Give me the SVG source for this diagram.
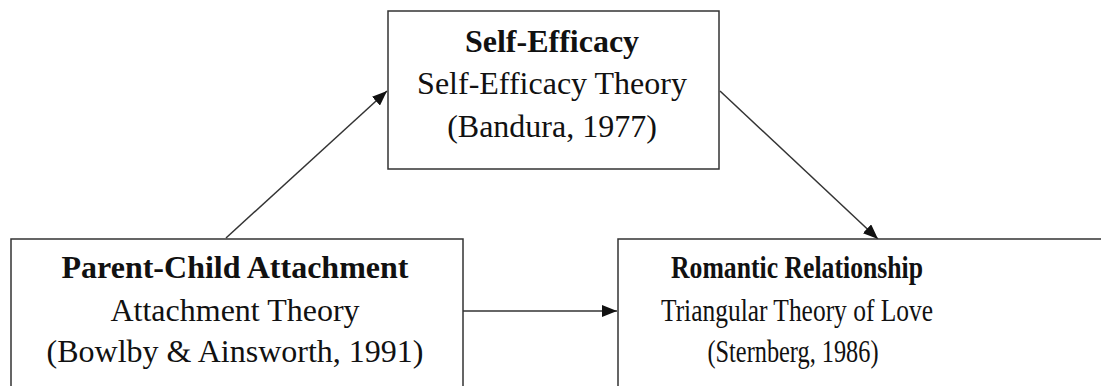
<svg xmlns="http://www.w3.org/2000/svg" width="1101" height="386" viewBox="0 0 1101 386">
  <defs>
    <style>
      .box { fill: #ffffff; stroke: #333333; stroke-width: 1.5; }
      .edge { fill: none; stroke: #333333; stroke-width: 1.5; }
      text { font-family: "Liberation Serif", "Times New Roman", serif; font-size: 32px; fill: #111111; text-anchor: middle; }
      .title { font-weight: bold; }
    </style>
    <marker id="arrow" viewBox="0 0 15 12" refX="15" refY="6" markerWidth="15" markerHeight="12" markerUnits="userSpaceOnUse" orient="auto">
      <path d="M0,0 L15,6 L0,12 Z" fill="#111111"/>
    </marker>
  </defs>
  <rect width="1101" height="386" fill="#ffffff"/>

  <g id="connectors">
    <line class="edge" x1="226" y1="238" x2="387" y2="91" marker-end="url(#arrow)"/>
    <line class="edge" x1="720" y1="91" x2="878" y2="239" marker-end="url(#arrow)"/>
    <line class="edge" x1="463" y1="311" x2="617" y2="311" marker-end="url(#arrow)"/>
  </g>

  <g id="node-self-efficacy">
    <rect class="box" x="388" y="11" width="331" height="158"/>
    <text class="title" x="552" y="52">Self-Efficacy</text>
    <text x="552" y="94">Self-Efficacy Theory</text>
    <text x="552" y="137">(Bandura, 1977)</text>
  </g>

  <g id="node-parent-child">
    <rect class="box" x="11" y="239" width="452" height="160"/>
    <text class="title" x="235" y="278">Parent-Child Attachment</text>
    <text x="235" y="321">Attachment Theory</text>
    <text x="235" y="362">(Bowlby &amp; Ainsworth, 1991)</text>
  </g>

  <g id="node-romantic">
    <rect class="box" x="618" y="239" width="500" height="160"/>
    <text class="title" x="797" y="278" textLength="252" lengthAdjust="spacingAndGlyphs">Romantic Relationship</text>
    <text x="797" y="321" textLength="272" lengthAdjust="spacingAndGlyphs">Triangular Theory of Love</text>
    <text x="793" y="362" textLength="171" lengthAdjust="spacingAndGlyphs">(Sternberg, 1986)</text>
  </g>
</svg>
